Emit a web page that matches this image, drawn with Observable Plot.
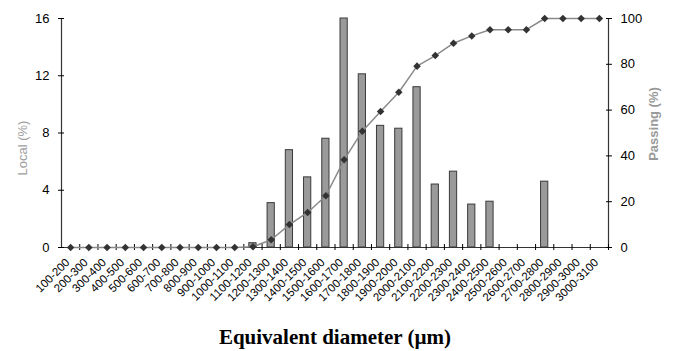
<!DOCTYPE html>
<html><head><meta charset="utf-8">
<script src="https://cdn.jsdelivr.net/npm/d3@7"></script>
<script src="https://cdn.jsdelivr.net/npm/@observablehq/plot@0.6"></script>
<style>body{margin:0;background:#fff}</style>
</head><body><div id="chart"></div>
<script>
const categories = ["100-200","200-300","300-400","400-500","500-600","600-700","700-800","800-900","900-1000","1000-1100","1100-1200","1200-1300","1300-1400","1400-1500","1500-1600","1600-1700","1700-1800","1800-1900","1900-2000","2000-2100","2100-2200","2200-2300","2300-2400","2400-2500","2500-2600","2600-2700","2700-2800","2800-2900","2900-3000","3000-3100"];
const local = [0,0,0,0,0,0,0,0,0,0,0.3,3.1,6.8,4.9,7.6,16,12.1,8.5,8.3,11.2,4.4,5.3,3.0,3.2,0,0,4.6,0,0,0];
const passing = [0,0,0,0,0,0,0,0,0,0,0.3,3.4,10,15.3,22.6,38.3,50.8,59.4,67.8,79.2,83.8,89.2,92.4,95.1,95.1,95.1,100,100,100,100];
const leftTicks = [0,4,8,12,16];
const rightTicks = [0,20,40,60,80,100];
const k = 16/100;

const data = categories.map((c,i)=>({c, local: local[i], passing: passing[i]}));
const halfBand = 547/60;
const narrow = "'Liberation Sans Narrow', 'Arial Narrow', Arial, sans-serif";

const chart = Plot.plot({
  width: 673, height: 351,
  marginLeft: 61, marginRight: 65, marginTop: 18, marginBottom: 104,
  style: {fontFamily: narrow},
  x: {type: "band", domain: categories, padding: 0, round: false},
  y: {domain: [0,16]},
  marks: [
    Plot.ruleX([categories[0]], {dx: -halfBand, stroke: "#333", strokeWidth: 1.2}),
    Plot.ruleX([categories[categories.length-1]], {dx: halfBand, stroke: "#333", strokeWidth: 1.2}),
    Plot.barY(data, {x: "c", y: "local", fill: "#9a9a9a", stroke: "#3a3a3a", strokeWidth: 1, insetLeft: 5.5, insetRight: 5.5}),
    Plot.ruleY([0], {stroke: "#333", strokeWidth: 1.2}),
    Plot.axisY(leftTicks, {anchor: "left", tickSize: 3, tickPadding: 9, fontSize: 13, label: null}),
    Plot.axisY(leftTicks, {anchor: "left", tickSize: -3, text: null, label: null}),
    Plot.axisY(rightTicks, {anchor: "right", y: d => d*k, text: d => d, tickSize: 3, tickPadding: 9, fontSize: 13, label: null}),
    Plot.axisY(rightTicks, {anchor: "right", y: d => d*k, tickSize: -3, text: null, label: null}),
    Plot.axisX({tickSize: 3, dx: halfBand, text: null, label: null}),
    Plot.axisX({tickSize: -3, dx: halfBand, text: null, label: null}),
    Plot.axisX({tickSize: 0, tickRotate: -45, tickPadding: 13, dx: -3, fontSize: 11.5, label: null}),
    Plot.line(data, {x: "c", y: d => d.passing*k, stroke: "#8a8a8a", strokeWidth: 1.5}),
    Plot.dot(data, {x: "c", y: d => d.passing*k, symbol: "diamond2", r: 3.4, fill: "#333", stroke: "none"}),
    Plot.text(["Local (%)"], {frameAnchor: "left", textAnchor: "middle", dx: -39, dy: 15, rotate: -90, fill: "#a0a0a0", fontSize: 13, fontFamily: "Arial, 'Liberation Sans', sans-serif", letterSpacing: "0.8px"}),
    Plot.text(["Passing (%)"], {frameAnchor: "right", textAnchor: "middle", dx: 45, dy: -9, rotate: -90, fill: "#999", fontSize: 13, fontWeight: "bold", fontFamily: "Arial, 'Liberation Sans', sans-serif"}),
    Plot.text(["Equivalent diameter (µm)"], {frameAnchor: "bottom", dy: 96, fontSize: 21, fontWeight: "bold", fontFamily: "'Liberation Serif','Times New Roman',serif", fill: "#000"})
  ]
});
document.getElementById("chart").append(chart);
</script>
</body></html>
